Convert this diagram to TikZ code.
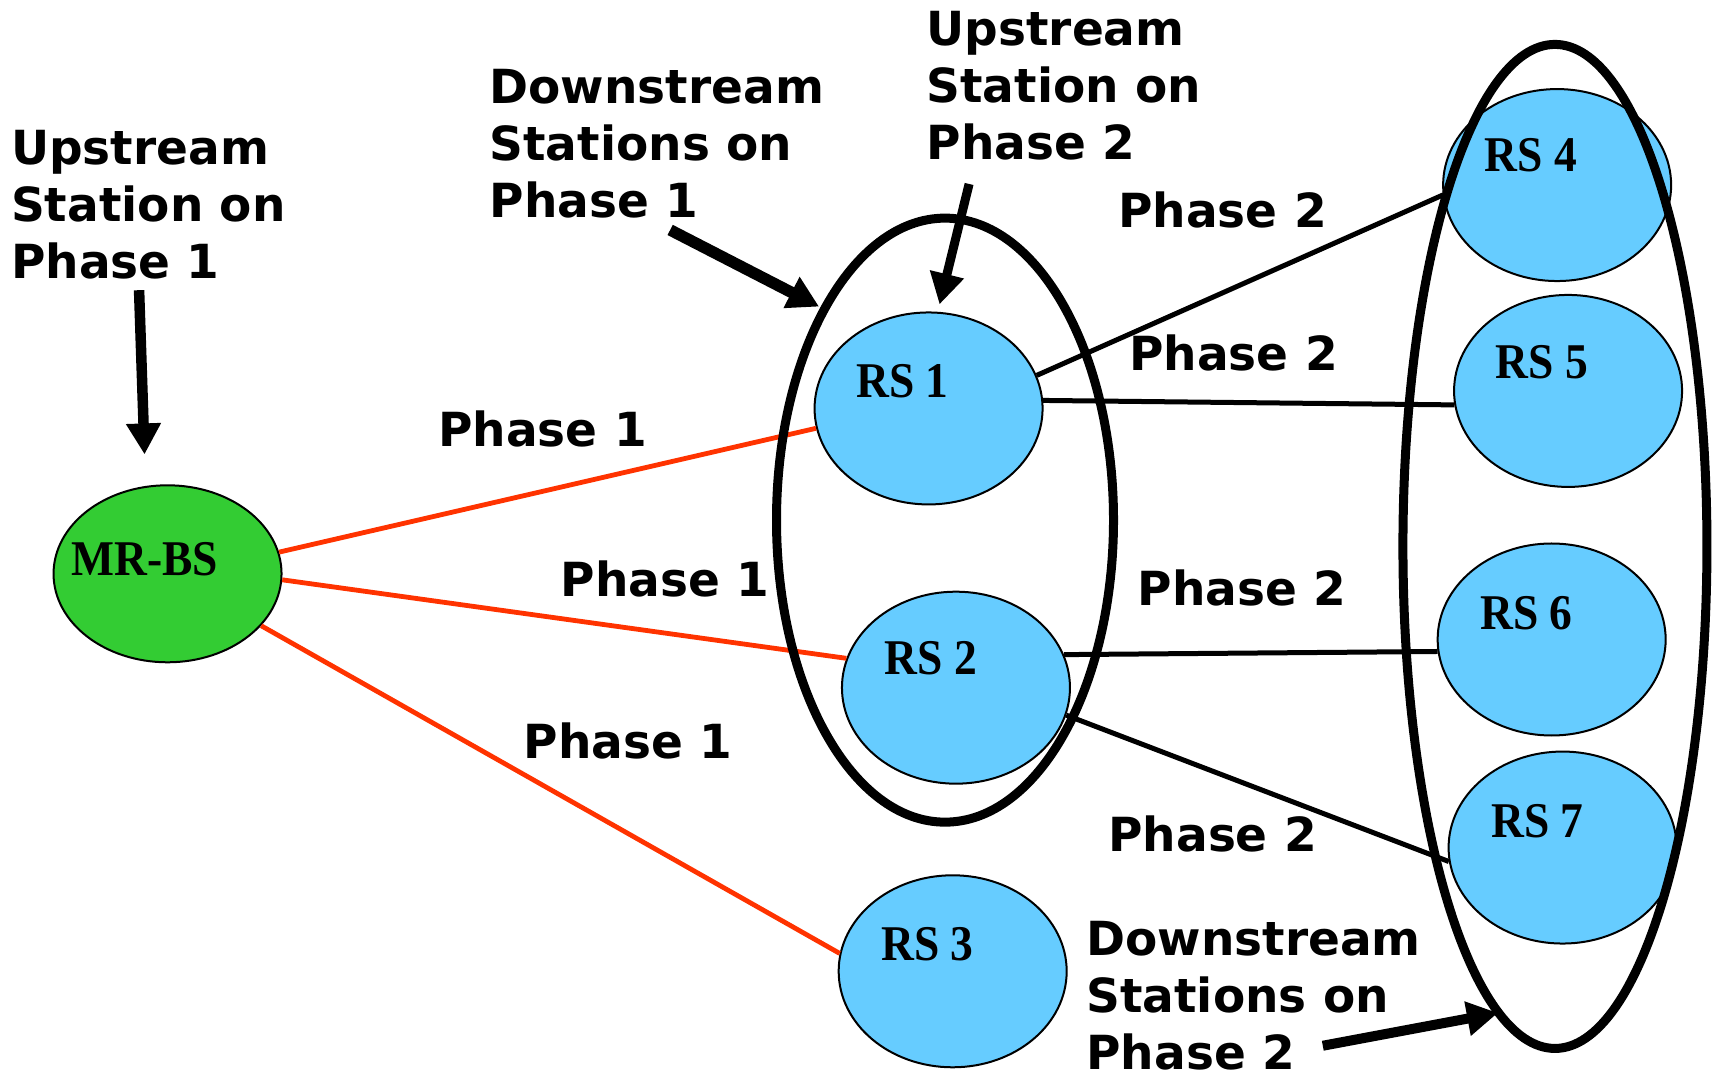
\documentclass[tikz,border=0pt]{standalone}
\usepackage{fontspec}
\setmainfont{DejaVu Sans}
\newfontfamily\rsfont[FakeStretch=0.91]{Liberation Serif}
\usetikzlibrary{arrows.meta,calc,shapes.geometric}
\definecolor{bsgreen}{HTML}{33CC33}
\definecolor{rsblue}{HTML}{66CCFF}
\definecolor{linkred}{HTML}{FF3300}
\begin{document}
\begin{tikzpicture}[x={(1.095pt,0)},y={(0,-1.095pt)},
  station/.style={ellipse,draw=black,line width=2pt,fill=rsblue,minimum width=228pt,minimum height=192pt,inner sep=0pt},
  basest/.style={station,fill=bsgreen,minimum height=177pt},
  group/.style={ellipse,draw=black,line width=9pt,inner sep=0pt},
  rslbl/.style={font=\rsfont\fontsize{50pt}{52pt}\selectfont\bfseries,inner sep=0pt},
  lbl/.style={font=\fontsize{47pt}{57pt}\selectfont\bfseries,inner sep=0pt,align=left,anchor=north west},
  phase/.style={font=\fontsize{47pt}{57pt}\selectfont\bfseries,inner sep=0pt,anchor=base west},
  redlink/.style={draw=linkred,line width=4.8pt},
  blklink/.style={draw=black,line width=5pt},
  bigarrow/.style={draw=black,line width=10.5pt,-{Triangle[length=31pt,width=33pt]}}]
\useasboundingbox (0,0) rectangle (1568,982);
% stations
\node[basest] (bs) at (153,524) {};
\node[station] (rs1) at (848,373) {};
\node[station] (rs2) at (873,628) {};
\node[station] (rs3) at (870,887) {};
\node[station] (rs4) at (1422,169) {};
\node[station] (rs5) at (1432,357) {};
\node[station] (rs6) at (1417,584) {};
\node[station] (rs7) at (1427,774) {};
% links
\draw[redlink] (bs.11) -- (rs1.190);
\draw[redlink] (bs.-3) -- (rs2.165);
\draw[redlink] (bs.-29) -- (rs3.171);
\draw[blklink] (rs1.17) -- (rs4.185);
\draw[blklink] (rs1.4) -- (rs5.187);
\draw[blklink] (rs2.17) -- (rs6.186);
\draw[blklink] (rs2.-14) -- (rs7.187);
% station labels
\node[rslbl] (tbs) at ($(bs)+(-21,-13)$) {MR-BS};
\node[rslbl] (t1) at ($(rs1)+(-24,-25)$) {RS 1};
\node[rslbl] (t2) at ($(rs2)+(-23,-27)$) {RS 2};
\node[rslbl] (t3) at ($(rs3)+(-23,-25)$) {RS 3};
\node[rslbl] (t4) at ($(rs4)+(-24,-27)$) {RS 4};
\node[rslbl] (t5) at ($(rs5)+(-24,-26)$) {RS 5};
\node[rslbl] (t6) at ($(rs6)+(-23,-24)$) {RS 6};
\node[rslbl] (t7) at ($(rs7)+(-23,-24)$) {RS 7};
% groups
\node[group,minimum width=337pt,minimum height=604pt] (g1) at (863,475) {};
\node[group,minimum width=304pt,minimum height=1004pt] (g2) at (1420,499) {};
% labels
\node[lbl] (up1) at (10,119) {Upstream\\Station on\\Phase 1};
\node[lbl] (dn1) at (447,63) {Downstream\\Stations on\\Phase 1};
\node[lbl] (up2) at (846,10) {Upstream\\Station on\\Phase 2};
\node[lbl] (dn2) at (992,841) {Downstream\\Stations on\\Phase 2};
\node[phase] (pa) at (400,408) {Phase 1};
\node[phase] (pb) at (512,545) {Phase 1};
\node[phase] (pc) at (478,693) {Phase 1};
\node[phase] (pd) at (1021,208) {Phase 2};
\node[phase] (pe) at (1031,338) {Phase 2};
\node[phase] (pf) at (1039,553) {Phase 2};
\node[phase] (pg) at (1012,778) {Phase 2};
% arrows
\coordinate (a1s) at (127,265); \coordinate (a1e) at (132,415);
\coordinate (a2s) at (612,210); \coordinate (a2e) at (748,280);
\coordinate (a3s) at (885,168); \coordinate (a3e) at (858,278);
\coordinate (a4s) at (1208,955); \coordinate (a4e) at (1368,925);
\draw[bigarrow] (a1s) -- (a1e);
\draw[bigarrow,line width=11.5pt] (a2s) -- (a2e);
\draw[bigarrow,line width=9pt] (a3s) -- (a3e);
\draw[bigarrow,line width=10pt] (a4s) -- (a4e);
\end{tikzpicture}
\end{document}
